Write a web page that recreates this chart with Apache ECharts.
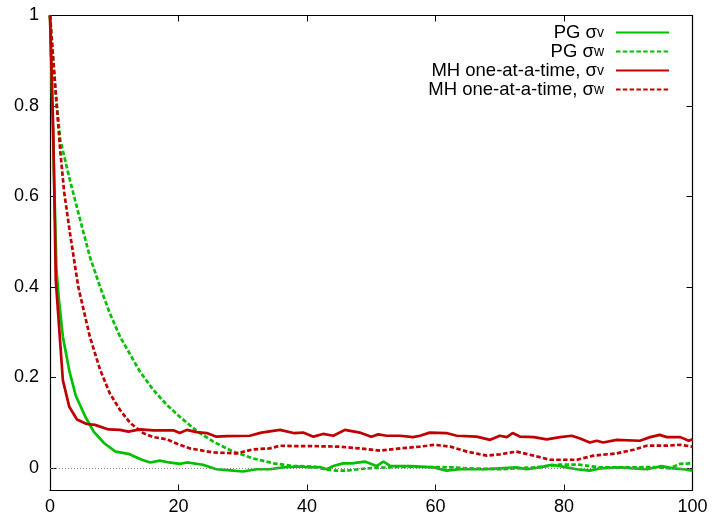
<!DOCTYPE html>
<html>
<head>
<meta charset="utf-8">
<script src="https://cdn.jsdelivr.net/npm/echarts@6/dist/echarts.min.js"></script>
<style>
html,body{margin:0;padding:0;background:#fff;}
#chart{width:712px;height:519px;}
</style>
</head>
<body>
<div id="chart"></div>
<script>
// ---- data (lag, autocorrelation) ----
var seriesNames = ['PG σv', 'PG σw', 'MH one-at-a-time, σv', 'MH one-at-a-time, σw'];
var xTicks = [0, 20, 40, 60, 80, 100];
var yTicks = [0, 0.2, 0.4, 0.6, 0.8, 1];

var pgSigmaV = [[0,1],[0.5,0.72],[1,0.44],[1.4,0.37],[2,0.29],[3,0.215],[4,0.16],[5.5,0.113],[6.8,0.08],[8.4,0.055],[10.2,0.036],[12.2,0.031],[14.3,0.018],[15.6,0.012],[17.1,0.016],[18.5,0.012],[20.2,0.009],[21.3,0.012],[23.8,0.007],[25.9,-0.003],[28.5,-0.006],[30,-0.008],[32.2,-0.003],[34.2,-0.003],[36.3,0.001],[38.9,0.003],[40.5,0.001],[42,0.002],[43.1,-0.003],[44.1,0.004],[45.6,0.010],[47,0.010],[49,0.014],[50.8,0.004],[51.9,0.014],[53,0.004],[56.1,0.004],[59.7,0.001],[61.7,-0.006],[63.8,-0.003],[67.4,-0.003],[70,-0.001],[72.6,0.001],[74.2,-0.003],[76.3,0.001],[78.1,0.007],[80.4,0.001],[82,-0.003],[84,-0.006],[85.6,-0.001],[88.7,0.001],[90.8,-0.001],[92.9,-0.003],[95.2,0.004],[97,-0.001],[98.6,-0.003],[100,-0.006]];

var pgSigmaW = [[0,1],[0.8,0.84],[1.6,0.725],[3.1,0.636],[4.7,0.548],[6.2,0.467],[7.8,0.40],[9.3,0.342],[10.9,0.29],[12.5,0.25],[14,0.213],[16.1,0.172],[18.2,0.139],[20.2,0.113],[22.8,0.082],[25.4,0.058],[28.5,0.036],[31.6,0.021],[34.8,0.010],[37.9,0.004],[41,0.003],[43.1,-0.004],[44.6,-0.006],[46.2,-0.006],[49.3,-0.001],[52.4,0.001],[54.5,0.002],[59.7,0.002],[62.8,0.001],[64.9,-0.001],[70,-0.003],[75.3,0.001],[79.4,0.007],[82.5,0.007],[85.6,0.001],[90.8,0.001],[93.9,0.002],[96.5,-0.001],[98.1,0.009],[100,0.010]];

var mhSigmaV = [[0,1],[0.5,0.75],[0.9,0.415],[2,0.194],[3,0.135],[4.2,0.107],[5.7,0.097],[7,0.095],[9.1,0.085],[10.9,0.084],[12.2,0.080],[14,0.085],[16.1,0.083],[19.2,0.083],[20.2,0.077],[21.3,0.084],[22.8,0.079],[24.4,0.077],[25.9,0.069],[27.5,0.070],[31.1,0.071],[32.9,0.078],[35.8,0.084],[37.9,0.077],[39.4,0.078],[41,0.069],[42.5,0.075],[44.1,0.071],[45.9,0.084],[48.2,0.078],[50,0.069],[51.1,0.074],[52.4,0.071],[54.5,0.071],[56.5,0.068],[57.6,0.071],[59.1,0.078],[61.7,0.077],[63.3,0.071],[66.4,0.069],[68.5,0.062],[70,0.071],[71.1,0.068],[72,0.077],[73.2,0.069],[75.3,0.068],[77.3,0.063],[79.4,0.068],[81.2,0.071],[82.5,0.065],[84,0.056],[85.1,0.060],[86.1,0.056],[88.2,0.062],[91.8,0.060],[93.4,0.068],[94.9,0.073],[96,0.068],[98.1,0.068],[99.4,0.060],[100,0.063]];

var mhSigmaW = [[0,1],[1,0.81],[1.6,0.70],[2.2,0.61],[3.1,0.52],[4.4,0.40],[6.2,0.29],[7.8,0.217],[9.3,0.165],[10.9,0.128],[12.5,0.099],[14.5,0.077],[16.1,0.068],[18.2,0.063],[20.2,0.051],[21.8,0.043],[25.4,0.034],[29.1,0.032],[31.6,0.041],[34.2,0.043],[35.8,0.049],[37.9,0.048],[41,0.048],[45,0.047],[48.2,0.043],[51.4,0.038],[54.5,0.043],[57.6,0.047],[59.9,0.051],[62.3,0.047],[64.9,0.036],[68,0.027],[70,0.030],[72.6,0.036],[75.3,0.027],[77.8,0.018],[82,0.018],[84.6,0.027],[88.2,0.032],[90.8,0.040],[92.9,0.049],[96,0.049],[98.1,0.051],[100,0.047]];

var GREEN = '#00c000', RED = '#c00000';
var FONT = '"Liberation Sans", Arial, Helvetica, sans-serif';

function legendFmt(name) {
  var base = name.slice(0, -1), sub = name.slice(-1);
  return '{a|' + base + '}{s|' + sub + '}';
}

var chart = echarts.init(document.getElementById('chart'), null, {renderer: 'canvas'});

function mkSeries(name, data, color, dashed) {
  return {
    name: name, type: 'line', data: data, xAxisIndex: 0, yAxisIndex: 0,
    symbol: 'none', showSymbol: false, smooth: false, animation: false,
    lineStyle: {color: color, width: 2.7, type: dashed ? [4.5, 2.3] : 'solid', cap: 'butt'},
    itemStyle: {color: color},
    emphasis: {disabled: true}
  };
}

var series = [
  mkSeries(seriesNames[0], pgSigmaV, GREEN, false),
  mkSeries(seriesNames[1], pgSigmaW, GREEN, true),
  mkSeries(seriesNames[2], mhSigmaV, RED, false),
  mkSeries(seriesNames[3], mhSigmaW, RED, true)
];
series[0].markLine = {
  silent: true, symbol: ['none', 'none'], animation: false,
  label: {show: false},
  lineStyle: {color: '#888', width: 1, type: [1, 2]},
  data: [{yAxis: 0}]
};

var axisCommon = {
  axisLine: {show: true, onZero: false, lineStyle: {color: '#000', width: 1.2}},
  axisTick: {show: true, inside: true, length: 6, lineStyle: {color: '#000', width: 1}},
  splitLine: {show: false}
};

var option = {
  animation: false,
  backgroundColor: '#fff',
  textStyle: {fontFamily: FONT},
  grid: {left: 50, right: 19.5, top: 15.5, bottom: 28.5, containLabel: false},
  legend: {
    show: true,
    data: seriesNames,
    orient: 'vertical',
    right: 42,
    top: 23,
    align: 'right',
    itemWidth: 53,
    itemHeight: 14,
    itemGap: 0,
    padding: 0,
    selectedMode: false,
    formatter: legendFmt,
    itemStyle: {opacity: 0, borderWidth: 0},
    textStyle: {
      fontFamily: FONT, color: '#000',
      rich: {
        a: {fontSize: 18.5, fontFamily: FONT, color: '#000', lineHeight: 16, verticalAlign: 'middle'},
        s: {fontSize: 14, fontFamily: FONT, color: '#000', lineHeight: 3, verticalAlign: 'bottom', padding: [0, 7, 0, 0]}
      }
    }
  },
  xAxis: [
    Object.assign({}, axisCommon, {
      type: 'value', position: 'bottom', min: 0, max: 100, interval: 20,
      axisLabel: {show: true, color: '#000', fontSize: 18, fontFamily: FONT, margin: 8,
        customValues: xTicks, formatter: function (v) { return String(v); }},
      axisTick: Object.assign({}, axisCommon.axisTick, {customValues: xTicks})
    }),
    Object.assign({}, axisCommon, {
      type: 'value', position: 'top', min: 0, max: 100, interval: 20,
      axisLabel: {show: false},
      axisTick: Object.assign({}, axisCommon.axisTick, {customValues: xTicks})
    })
  ],
  yAxis: [
    Object.assign({}, axisCommon, {
      type: 'value', position: 'left', min: -0.05, max: 1,
      axisLabel: {show: true, color: '#000', fontSize: 18, fontFamily: FONT, margin: 11,
        customValues: yTicks, formatter: function (v) { return String(Math.round(v * 10) / 10); }},
      axisTick: Object.assign({}, axisCommon.axisTick, {customValues: yTicks})
    }),
    Object.assign({}, axisCommon, {
      type: 'value', position: 'right', min: -0.05, max: 1,
      axisLabel: {show: false},
      axisTick: Object.assign({}, axisCommon.axisTick, {customValues: yTicks})
    })
  ],
  series: series
};
chart.setOption(option);
</script>
</body>
</html>
